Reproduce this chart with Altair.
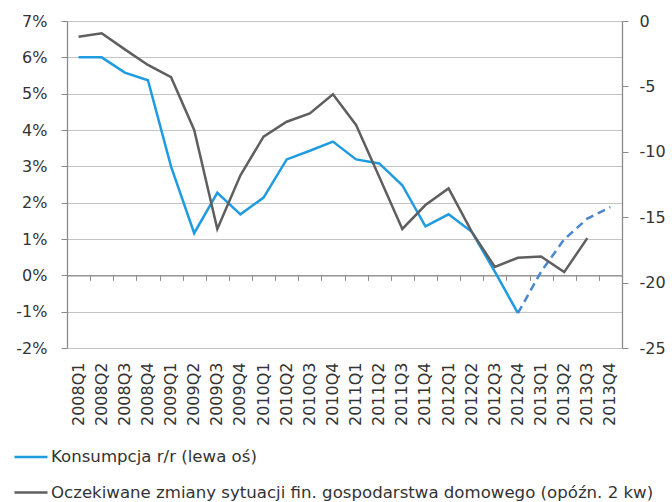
import altair as alt
import pandas as pd

quarters = ["2008Q1", "2008Q2", "2008Q3", "2008Q4",
            "2009Q1", "2009Q2", "2009Q3", "2009Q4",
            "2010Q1", "2010Q2", "2010Q3", "2010Q4",
            "2011Q1", "2011Q2", "2011Q3", "2011Q4",
            "2012Q1", "2012Q2", "2012Q3", "2012Q4",
            "2013Q1", "2013Q2", "2013Q3", "2013Q4"]

# Konsumpcja r/r (%), 2008Q1-2012Q4
konsumpcja = [6.0, 6.0, 5.58, 5.37, 2.99, 1.16, 2.27, 1.68, 2.14, 3.19,
              3.43, 3.68, 3.19, 3.08, 2.48, 1.35, 1.68, 1.2, 0.1, -1.04]
# dashed continuation 2012Q4-2013Q4
prognoza = [-1.04, 0.1, 0.99, 1.56, 1.88]
# Oczekiwane zmiany (right axis), 2008Q1-2013Q3
oczekiwania = [-1.2, -0.94, -2.17, -3.36, -4.3, -8.33, -15.9, -11.8, -8.84, -7.7,
               -7.06, -5.6, -7.95, -11.9, -15.9, -14.07, -12.8, -16.1, -18.8,
               -18.1, -18.0, -19.2, -16.6]

left_ticks = [-2, -1, 0, 1, 2, 3, 4, 5, 6, 7]
right_ticks = [0, -5, -10, -15, -20, -25]

S1 = "Konsumpcja r/r (lewa oś)"
S2 = "Oczekiwane zmiany sytuacji fin. gospodarstwa domowego (opóźn. 2 kw)"

BLUE = "#1f9be0"
DASH_BLUE = "#4b88cf"
GRAY = "#5f5f5f"
AXIS = "#8a8a8a"
TXT = "#333333"
FONT = "DejaVu Sans"

W, H = 555, 327

df_k = pd.DataFrame({"q": quarters[:len(konsumpcja)], "v": konsumpcja, "series": S1})
df_f = pd.DataFrame({"q": quarters[19:19 + len(prognoza)], "v": prognoza})
df_g = pd.DataFrame({"q": quarters[:len(oczekiwania)], "v": oczekiwania, "series": S2})

xscale = alt.Scale(type="band", domain=quarters, paddingInner=0, paddingOuter=0)
cscale = alt.Scale(domain=[S1, S2], range=[BLUE, GRAY])
yl = alt.Scale(domain=[-2, 7], nice=False, zero=False)
yr = alt.Scale(domain=[-25, 0], nice=False, zero=False)

blue = alt.Chart(df_k).mark_line(strokeWidth=2.5).encode(
    x=alt.X("q:N", scale=xscale, sort=quarters,
            axis=alt.Axis(title=None, labelAngle=-90, labelAlign="right",
                          labelBaseline="middle", domain=False, ticks=False,
                          grid=False, labelPadding=14, labelFont=FONT,
                          labelFontSize=16, labelColor=TXT, labelOverlap=False)),
    y=alt.Y("v:Q", scale=yl,
            axis=alt.Axis(title=None, values=left_ticks,
                          labelExpr="datum.value + '%'", grid=True,
                          gridColor="#c4c4c4", gridWidth=1.2,
                          domainColor=AXIS, domainWidth=1.3, tickColor=AXIS,
                          tickSize=6, labelPadding=14, labelFont=FONT,
                          labelFontSize=16, labelColor=TXT)),
    color=alt.Color("series:N", scale=cscale, legend=alt.Legend(title=None)),
)

dashed = alt.Chart(df_f).mark_line(strokeWidth=2.5, strokeDash=[8, 5],
                                   color=DASH_BLUE).encode(
    x=alt.X("q:N", scale=xscale, sort=quarters, axis=None),
    y=alt.Y("v:Q", scale=yl, axis=None),
)

gray = alt.Chart(df_g).mark_line(strokeWidth=2.5).encode(
    x=alt.X("q:N", scale=xscale, sort=quarters,
            axis=alt.Axis(title=None, labels=False, domain=True, ticks=True,
                          tickBand="extent", offset=-H * 2 / 9, grid=False,
                          domainColor=AXIS, domainWidth=1.3, tickColor=AXIS,
                          tickSize=5, orient="bottom")),
    y=alt.Y("v:Q", scale=yr,
            axis=alt.Axis(title=None, orient="right", values=right_ticks,
                          labelExpr="'' + datum.value", grid=False,
                          domainColor=AXIS, domainWidth=1.3, tickColor=AXIS,
                          tickSize=6, labelPadding=11, labelFont=FONT,
                          labelFontSize=16, labelColor=TXT)),
    color=alt.Color("series:N", scale=cscale, legend=alt.Legend(title=None)),
)

chart = alt.layer(blue, dashed, gray).resolve_scale(
    y="independent"
).resolve_axis(
    x="independent", y="independent"
).properties(
    width=W, height=H,
    padding={"left": 67, "top": 21, "right": 50, "bottom": 154},
    autosize=alt.AutoSizeParams(type="none"),
).configure_view(
    stroke=None
).configure_legend(
    orient="none", legendX=-54, legendY=418, direction="vertical",
    symbolType="stroke", symbolSize=1089, symbolStrokeWidth=2.5,
    labelFont=FONT, labelFontSize=16.6, labelColor=TXT, labelLimit=800,
    rowPadding=8.5, padding=0, labelOffset=2,
)

chart.save("out.html", embed_options={"renderer": "svg", "actions": False})
